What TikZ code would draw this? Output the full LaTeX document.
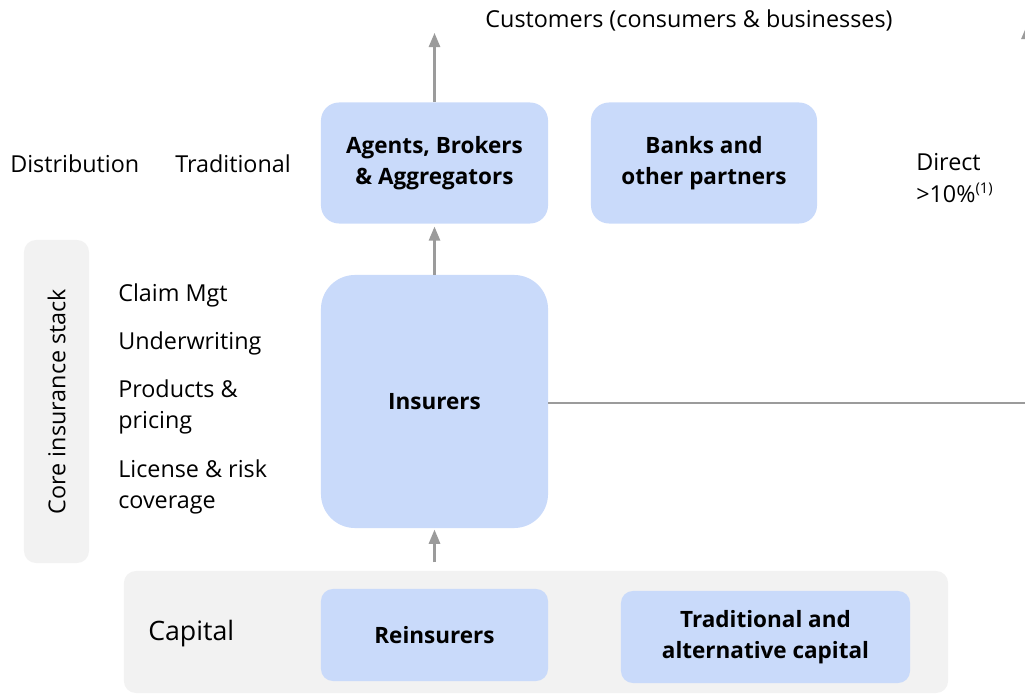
\documentclass[tikz,border=0pt]{standalone}
\usepackage{fontspec}
\setmainfont{Open Sans}
\usetikzlibrary{arrows.meta}
\definecolor{boxblue}{RGB}{201,218,250}
\definecolor{boxgrey}{RGB}{242,242,242}
\definecolor{linegrey}{RGB}{155,155,155}
\newcommand{\txtsize}{\fontsize{16.6}{22.5}\selectfont}
\newcommand{\boxsize}{\fontsize{16}{22.5}\selectfont}
\tikzset{
    bluebox/.style={fill=boxblue, rounded corners=0.45cm, align=center, font=\boxsize\bfseries, text=black},
    greybox/.style={fill=boxgrey, rounded corners=0.3cm},
    lbl/.style={anchor=west, align=left, inner sep=0pt},
    flow/.style={draw=linegrey, line width=1.5pt, -{Triangle[length=10pt, width=8pt]}}
}

\begin{document}
\begin{tikzpicture}[x=0.025cm, y=-0.025cm, every node/.style={font=\txtsize}]
    \useasboundingbox (0,0) rectangle (1025,695);

    % grey bands
    \node[greybox, minimum width=20.6cm, minimum height=3.05cm] (capital) at (536,632) {};
    \node[greybox, minimum width=1.625cm, minimum height=8.075cm] (core) at (56.5,401.5) {};
    \node[rotate=90] (corelbl) at (core.center) {Core insurance stack};

    % blue boxes
    \node[bluebox, minimum width=5.675cm, minimum height=3.025cm] (agents) at (434.5,163) {Agents, Brokers\\\& Aggregators};
    \node[bluebox, minimum width=5.65cm, minimum height=3.025cm] (banks) at (704,163) {Banks and\\other partners};
    \node[bluebox, rounded corners=0.85cm, minimum width=5.675cm, minimum height=6.325cm] (insurers) at (434.5,401.5) {Insurers};
    \node[bluebox, rounded corners=0.3cm, minimum width=5.675cm, minimum height=2.3cm] (reins) at (434.5,635) {Reinsurers};
    \node[bluebox, rounded corners=0.3cm, minimum width=7.225cm, minimum height=2.3cm] (altcap) at (765.5,637) {Traditional and\\alternative capital};

    % labels
    \node (customers) at (689,20) {Customers (consumers \& businesses)};
    \node[lbl] (distrib) at (10,164) {Distribution};
    \node[lbl] (trad) at (175,164) {Traditional};
    \node[lbl] (direct) at (916,178) {Direct\\>10\%\textsuperscript{\fontsize{10.5}{12}\selectfont(1)}};
    \node[lbl] (claim) at (118,295) {Claim Mgt};
    \node[lbl] (uw) at (118,343) {Underwriting};
    \node[lbl] (prod) at (118,407) {Products \&\\pricing};
    \node[lbl] (lic) at (118,487) {License \& risk\\coverage};
    \node[lbl, font=\fontsize{19}{22}\selectfont] (cap) at (148,634) {Capital};

    % connectors
    \coordinate (topend) at (434.5,33);
    \coordinate (edge) at (1027,403);
    \coordinate (edgetop) at (1027,25);
    \draw[flow] (agents.north) -- (topend);
    \draw[flow] (insurers.north) -- ([yshift=-2pt]agents.south);
    \draw[flow, shorten <=6pt] (capital.north -| insurers) -- ([yshift=-1pt]insurers.south);
    \draw[flow] (insurers.east |- edge) -- (edge) -- (edgetop);

\end{tikzpicture}
\end{document}
